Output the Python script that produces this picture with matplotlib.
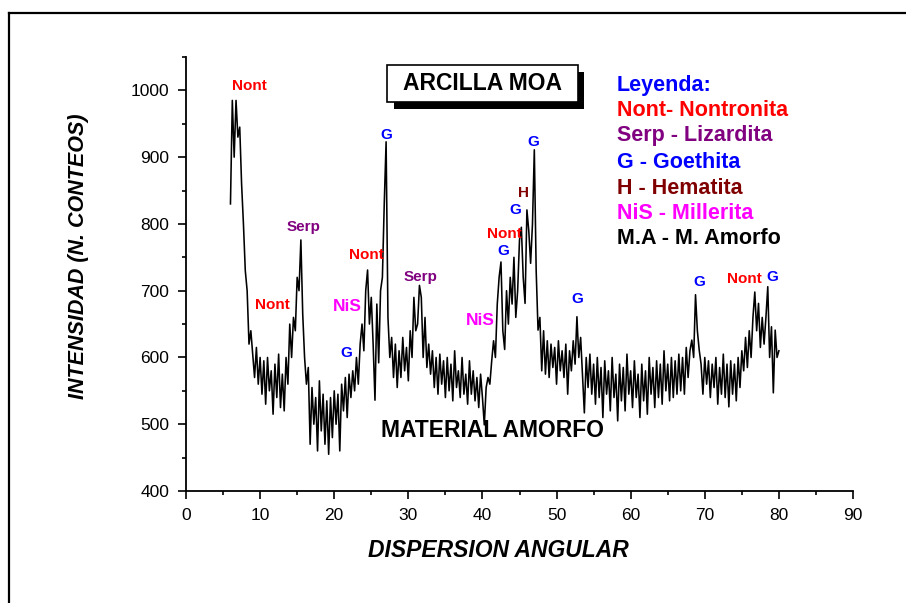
import numpy as np
import matplotlib
matplotlib.use("Agg")
import matplotlib.pyplot as plt
from matplotlib.patches import Rectangle
from matplotlib.lines import Line2D

plt.rcParams['font.family'] = ['Liberation Sans', 'DejaVu Sans']

# barrido 2-theta (paso 0.25 grados), de 6 a 80
angulo = np.arange(6.0, 80.001, 0.25)

cuentas_06_16 = [830, 985, 900, 985, 930, 945, 860, 800,
                 730, 700, 620, 640, 605, 570, 615, 560,
                 600, 545, 595, 530, 600, 550, 580, 515,
                 590, 540, 605, 525, 575, 520, 600, 560,
                 650, 600, 660, 640, 720, 700, 776, 665]
cuentas_16_26 = [600, 560, 585, 470, 555, 500, 540, 460,
                 565, 490, 545, 470, 535, 455, 540, 480,
                 550, 500, 545, 460, 560, 520, 570, 510,
                 575, 540, 580, 550, 600, 560, 620, 650,
                 610, 700, 731, 650, 690, 620, 536, 680]
cuentas_26_36 = [592, 700, 720, 830, 923, 660, 600, 630,
                 570, 620, 555, 610, 570, 630, 580, 615,
                 565, 640, 600, 690, 640, 650, 708, 690,
                 600, 660, 585, 620, 575, 610, 555, 600,
                 545, 605, 560, 595, 540, 600, 550, 590]
cuentas_36_46 = [535, 610, 555, 580, 540, 600, 545, 575,
                 530, 595, 545, 580, 535, 570, 525, 575,
                 540, 499, 555, 570, 560, 595, 625, 600,
                 680, 720, 743, 640, 612, 700, 650, 720,
                 680, 750, 660, 700, 776, 795, 720, 681]
cuentas_46_56 = [821, 790, 741, 800, 911, 730, 641, 660,
                 580, 640, 575, 625, 570, 620, 585, 615,
                 560, 625, 580, 610, 570, 620, 545, 610,
                 580, 625, 590, 661, 600, 630, 575, 517,
                 600, 555, 605, 545, 590, 530, 600, 540]
cuentas_56_66 = [585, 510, 595, 545, 580, 520, 600, 540,
                 575, 505, 590, 535, 585, 520, 605, 545,
                 580, 525, 595, 540, 575, 510, 590, 535,
                 580, 515, 600, 545, 585, 525, 595, 540,
                 590, 530, 610, 550, 590, 535, 600, 540]
cuentas_66_76 = [595, 545, 605, 550, 600, 545, 615, 570,
                 610, 626, 600, 694, 640, 611, 590, 545,
                 600, 560, 595, 540, 590, 555, 600, 530,
                 585, 545, 605, 540, 590, 526, 595, 545,
                 590, 535, 600, 555, 610, 580, 630, 585]
cuentas_76_80 = [640, 600, 660, 698, 640, 681, 615, 660,
                 620, 660, 706, 600, 646, 547, 641, 600, 610]

intensidad = (cuentas_06_16 + cuentas_16_26 + cuentas_26_36 + cuentas_36_46
              + cuentas_46_56 + cuentas_56_66 + cuentas_66_76 + cuentas_76_80)

# etiquetas de fases: (texto, angulo, intensidad, color)
fases = [
    ("Nont", 8.6, 1007, "#FF0000"),
    ("Nont", 11.6, 679, "#FF0000"),
    ("Serp", 15.9, 795, "#800080"),
    ("NiS", 21.7, 677, "#FF00FF"),
    ("G", 21.6, 607, "#0000FF"),
    ("Nont", 24.4, 753, "#FF0000"),
    ("G", 27.0, 933, "#0000FF"),
    ("Serp", 31.7, 720, "#800080"),
    ("NiS", 39.7, 656, "#FF00FF"),
    ("G", 42.8, 759, "#0000FF"),
    ("Nont", 42.9, 785, "#FF0000"),
    ("G", 44.4, 821, "#0000FF"),
    ("H", 45.5, 846, "#800000"),
    ("G", 46.8, 923, "#0000FF"),
    ("G", 52.8, 688, "#0000FF"),
    ("G", 69.2, 713, "#0000FF"),
    ("Nont", 75.3, 718, "#FF0000"),
    ("G", 79.1, 721, "#0000FF"),
]

leyenda = [
    ("Leyenda:", "#0000FF"),
    ("Nont- Nontronita", "#FF0000"),
    ("Serp - Lizardita", "#800080"),
    ("G - Goethita", "#0000FF"),
    ("H - Hematita", "#800000"),
    ("NiS - Millerita", "#FF00FF"),
    ("M.A - M. Amorfo", "#000000"),
]

fig = plt.figure(figsize=(9.06, 6.03), dpi=100)
ax = fig.add_axes([186 / 906, 1 - 491 / 603, 667 / 906, 434 / 603])

ax.plot(angulo, intensidad, color="black", lw=1.15)

ax.set_xlim(0, 90)
ax.set_ylim(400, 1050)
ax.set_xticks(np.arange(0, 91, 10))
ax.set_xticks(np.arange(5, 90, 10), minor=True)
ax.set_yticks(np.arange(400, 1001, 100))
ax.set_yticks(np.arange(450, 1051, 100), minor=True)
ax.spines['top'].set_visible(False)
ax.spines['right'].set_visible(False)
for s in ['left', 'bottom']:
    ax.spines[s].set_linewidth(1.3)
ax.tick_params(which='major', direction='out', length=6, width=1.2,
               labelsize=12.5, pad=6)
ax.tick_params(which='minor', direction='out', length=3, width=1.2)

ax.set_xlabel("DISPERSION ANGULAR", fontsize=16.5, fontweight='bold',
              fontstyle='italic')
ax.set_ylabel("INTENSIDAD (N. CONTEOS)", fontsize=15.5, fontweight='bold',
              fontstyle='italic')
ax.xaxis.set_label_coords(0.4685, -0.11)
ax.yaxis.set_label_coords(-0.145, 0.54)

for txt, x, y, c in fases:
    size = 12.5 if txt == "NiS" else 11
    ax.text(x, y, txt, color=c, fontsize=size, fontweight='bold',
            ha='center', va='center')

ax.text(41.4, 490, "MATERIAL AMORFO", fontsize=16.5, fontweight='bold',
        ha='center', va='center')

# recuadro del titulo con sombra
fig.add_artist(Rectangle((394 / 906, 1 - 109 / 603), 190 / 906, 37 / 603,
                         transform=fig.transFigure, facecolor='black',
                         edgecolor='none'))
fig.add_artist(Rectangle((387 / 906, 1 - 102 / 603), 191 / 906, 37 / 603,
                         transform=fig.transFigure, facecolor='white',
                         edgecolor='black', lw=1.2))
fig.text(482 / 906, 1 - 84 / 603, "ARCILLA MOA", fontsize=16.5,
         fontweight='bold', ha='center', va='center')

# leyenda manual
y_leyenda = [86, 111, 136, 162, 188, 213, 238]
for (txt, c), yp in zip(leyenda, y_leyenda):
    fig.text(617 / 906, 1 - yp / 603, txt, color=c, fontsize=15.5,
             fontweight='bold', ha='left', va='center')

# marco exterior
fig.add_artist(Line2D([9 / 906, 9 / 906], [0, 1 - 13 / 603], color='black',
                      lw=1.6, transform=fig.transFigure))
fig.add_artist(Line2D([9 / 906, 1], [1 - 13 / 603, 1 - 13 / 603],
                      color='black', lw=1.6, transform=fig.transFigure))

fig.savefig("out.png", dpi=100)
